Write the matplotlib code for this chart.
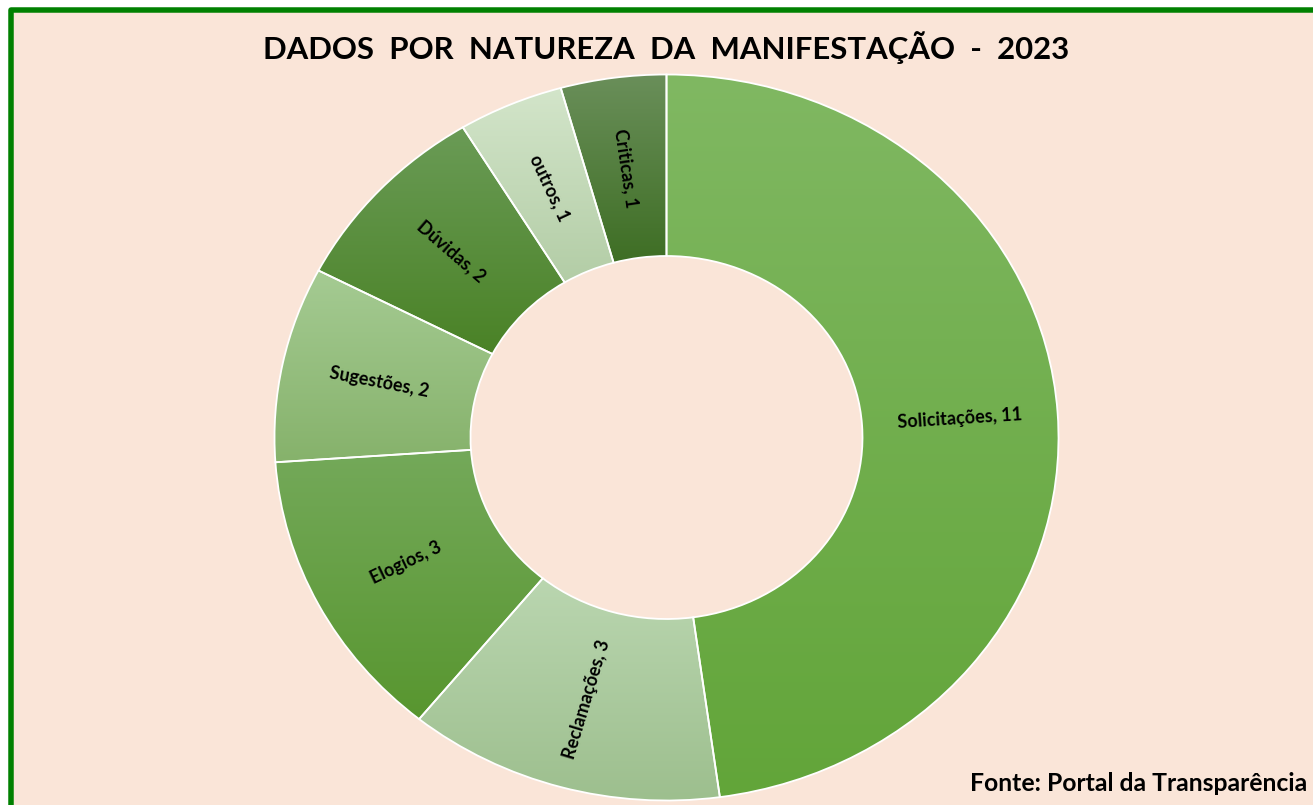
import numpy as np
import matplotlib
matplotlib.use("Agg")
import matplotlib.pyplot as plt
from matplotlib.patches import Wedge, Rectangle
from matplotlib.colors import LinearSegmentedColormap

categories = ["Solicitações", "Reclamações", "Elogios", "Sugestões", "Dúvidas", "outros", "Criticas"]
values = [11, 3, 3, 2, 2, 1, 1]
top_colors = ["#80B862", "#BAD6B0", "#74A95A", "#A5CB93", "#6A9B56", "#D3E5CA", "#6A8F5A"]
bottom_colors = ["#62A539", "#9DBF8E", "#58962F", "#86B26B", "#4A8226", "#B3CDA6", "#3E6E24"]
title = "DADOS  POR  NATUREZA  DA  MANIFESTAÇÃO  -  2023"
source = "Fonte: Portal da Transparência"

W, H = 1313, 805
fig = plt.figure(figsize=(W / 100, H / 100), dpi=100)
fig.patch.set_facecolor("white")

# frame
frame = Rectangle((10.5 / W, -0.05), 1.1, (H - 10) / H + 0.05, transform=fig.transFigure,
                  facecolor="#FAE5D8", edgecolor="#008000", linewidth=5.5 * 72 / 100,
                  joinstyle="round", zorder=0)
fig.add_artist(frame)

ax = fig.add_axes([0, 0, 1, 1])
ax.axis("off")
ax.patch.set_visible(False)

cx, cy = 666.5, 437.5   # pixel centre (from top)
rx, ry = 392.0, 363.0
xlim = (-cx / rx, (W - cx) / rx)
ylim = (-(H - cy) / ry, cy / ry)

total = float(sum(values))
cum = 0.0
r_out, width = 1.0, 0.5
for cat, v, ct, cb in zip(categories, values, top_colors, bottom_colors):
    t2 = 90 - cum / total * 360
    t1 = 90 - (cum + v) / total * 360
    cum += v
    w = Wedge((0, 0), r_out, t1, t2, width=width, facecolor="none", edgecolor="none")
    ax.add_patch(w)
    # bounding box of the sector
    ang = np.radians(np.linspace(t1, t2, 400))
    xs = np.concatenate([r_out * np.cos(ang), (r_out - width) * np.cos(ang)])
    ys = np.concatenate([r_out * np.sin(ang), (r_out - width) * np.sin(ang)])
    cmap = LinearSegmentedColormap.from_list(cat, [cb, ct])
    grad = np.linspace(0, 1, 256).reshape(-1, 1)
    im = ax.imshow(grad, extent=(xs.min(), xs.max(), ys.min(), ys.max()), origin="lower",
                   cmap=cmap, aspect="auto", interpolation="bilinear", zorder=1)
    im.set_clip_path(w)
    ax.add_patch(Wedge((0, 0), r_out, t1, t2, width=width, facecolor="none",
                       edgecolor="white", linewidth=1.3, zorder=2))
    # label
    mid = np.radians((t1 + t2) / 2)
    lx, ly = 0.75 * np.cos(mid), 0.75 * np.sin(mid)
    rot = np.degrees(np.arctan2(ry * np.sin(mid), rx * np.cos(mid)))
    if rot > 90:
        rot -= 180
    elif rot < -90:
        rot += 180
    ax.text(lx, ly, f"{cat}, {v}", ha="center", va="center", rotation=rot,
            rotation_mode="anchor", fontsize=13, fontfamily="Lato", fontweight="bold",
            color="black", zorder=3)

ax.set_xlim(*xlim)
ax.set_ylim(*ylim)

fig.text(666.5 / W, 1 - 48 / H, title, ha="center", va="center", fontsize=22.4,
         fontfamily="Lato", fontweight="bold", color="black")
fig.text(1307 / W, 1 - 783 / H, source, ha="right", va="center", fontsize=17.8,
         fontfamily="Lato", fontweight="bold", color="black")

fig.savefig("out.png", dpi=100, facecolor=fig.get_facecolor())
